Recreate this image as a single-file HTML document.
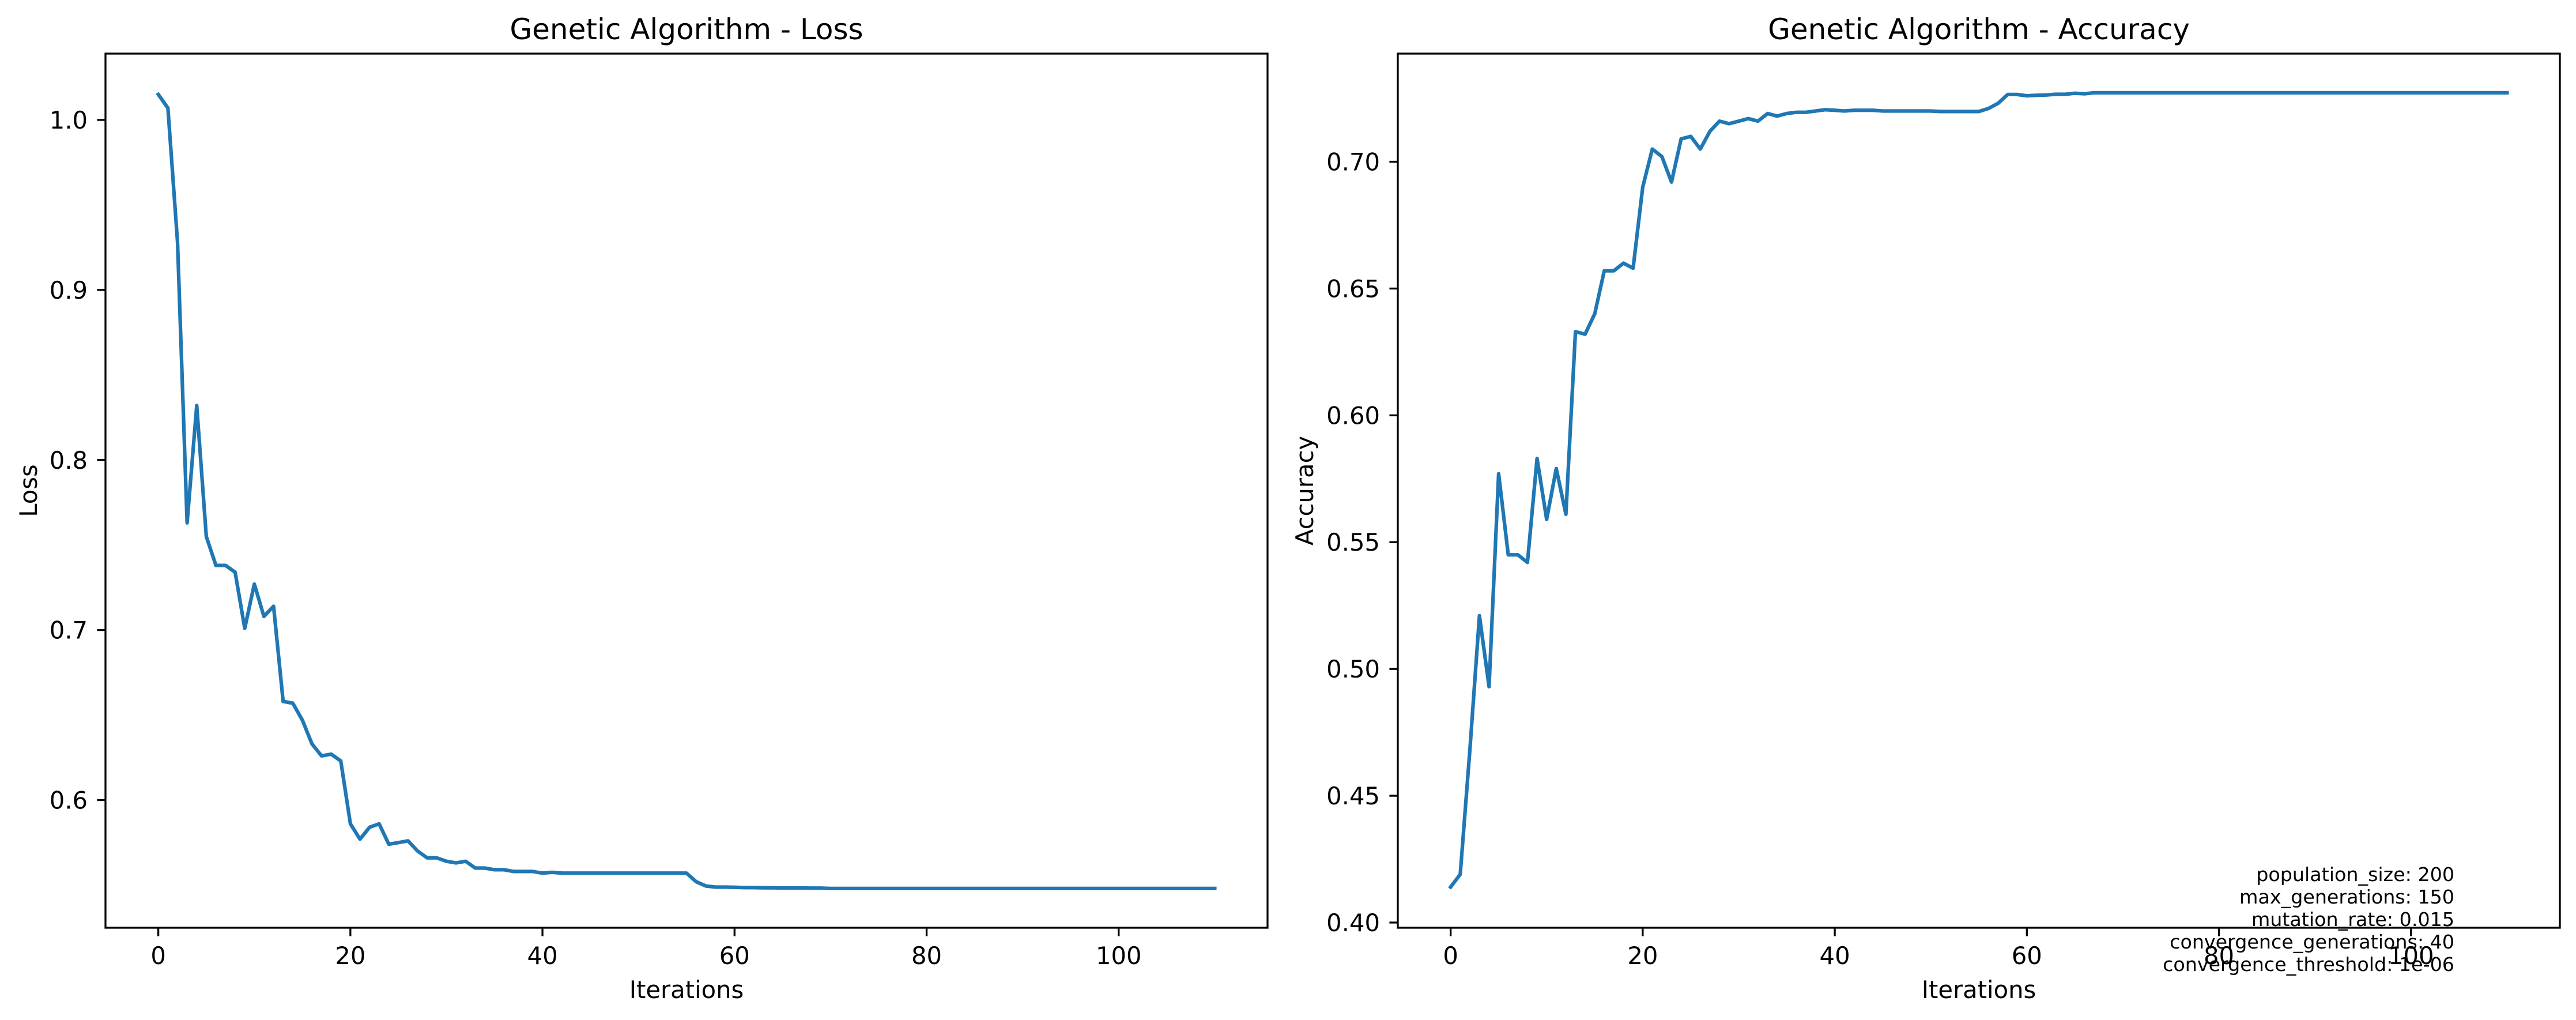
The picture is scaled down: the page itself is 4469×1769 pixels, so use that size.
<!DOCTYPE html>
<html><head><meta charset="utf-8"><style>
html,body{margin:0;padding:0;background:#fff;}
svg{display:block;font-family:"DejaVu Sans","Liberation Sans",sans-serif;}
</style></head><body>
<svg id="fig" width="4469" height="1769" viewBox="0 0 4469 1769" xmlns="http://www.w3.org/2000/svg">
<rect width="4469" height="1769" fill="#fff"/>
</svg>
<script>
const lossValues=[1.015,1.007,0.928,0.763,0.832,0.755,0.738,0.738,0.734,0.701,0.727,0.708,0.714,0.658,0.657,0.647,0.633,0.626,0.627,0.623,0.586,0.577,0.584,0.586,0.574,0.575,0.576,0.570,0.566,0.566,0.564,0.563,0.564,0.560,0.560,0.559,0.559,0.558,0.558,0.558,0.557,0.5575,0.557,0.557,0.557,0.557,0.557,0.557,0.557,0.557,0.557,0.557,0.557,0.557,0.557,0.557,0.552,0.5495,0.5488,0.5488,0.5487,0.5485,0.5485,0.5484,0.5484,0.5483,0.5483,0.5483,0.5482,0.5482,0.548,0.548,0.548,0.548,0.548,0.548,0.548,0.548,0.548,0.548,0.548,0.548,0.548,0.548,0.548,0.548,0.548,0.548,0.548,0.548,0.548,0.548,0.548,0.548,0.548,0.548,0.548,0.548,0.548,0.548,0.548,0.548,0.548,0.548,0.548,0.548,0.548,0.548,0.548,0.548,0.548];
const accValues=[0.414,0.419,0.468,0.521,0.493,0.577,0.545,0.545,0.542,0.583,0.559,0.579,0.561,0.633,0.632,0.640,0.657,0.657,0.660,0.658,0.690,0.705,0.702,0.692,0.709,0.710,0.705,0.712,0.716,0.715,0.716,0.717,0.716,0.719,0.718,0.719,0.7195,0.7195,0.720,0.7205,0.7203,0.720,0.7203,0.7203,0.7203,0.720,0.720,0.720,0.720,0.720,0.720,0.7198,0.7198,0.7198,0.7198,0.7198,0.721,0.723,0.7265,0.7265,0.726,0.7262,0.7263,0.7266,0.7266,0.727,0.7268,0.7272,0.7272,0.7272,0.7272,0.7272,0.7272,0.7272,0.7272,0.7272,0.7272,0.7272,0.7272,0.7272,0.7272,0.7272,0.7272,0.7272,0.7272,0.7272,0.7272,0.7272,0.7272,0.7272,0.7272,0.7272,0.7272,0.7272,0.7272,0.7272,0.7272,0.7272,0.7272,0.7272,0.7272,0.7272,0.7272,0.7272,0.7272,0.7272,0.7272,0.7272,0.7272,0.7272,0.7272];
const xTicks=[0,20,40,60,80,100];
const lossTicks=[0.6,0.7,0.8,0.9,1.0];
const lossTickLabels=["0.6","0.7","0.8","0.9","1.0"];
const accTicks=[0.40,0.45,0.50,0.55,0.60,0.65,0.70];
const accTickLabels=["0.40","0.45","0.50","0.55","0.60","0.65","0.70"];
const annotLines=["population_size: 200","max_generations: 150","mutation_rate: 0.015","convergence_generations: 40","convergence_threshold: 1e-06"];

const NS="http://www.w3.org/2000/svg";
const svg=document.getElementById('fig');
function mk(tag,attrs,parent){const e=document.createElementNS(NS,tag);for(const k in attrs)e.setAttribute(k,attrs[k]);(parent||svg).appendChild(e);return e;}

function panel(o){
  const g=mk('g',{});
  
  
  const xs=v=>o.L+(v-o.xmin)/(o.xmax-o.xmin)*(o.R-o.L);
  const ys=v=>o.B-(v-o.ymin)/(o.ymax-o.ymin)*(o.B-o.T);
  let d='';
  o.values.forEach((v,i)=>{d+=(i?'L':'M')+xs(i).toFixed(1)+' '+ys(v).toFixed(1);});
  const p=mk('path',{d:d,fill:'none',stroke:'#1f77b4','stroke-width':6.25,'stroke-linejoin':'round','stroke-linecap':'square'},g);
  
  
  const f=mk('rect',{x:o.L,y:o.T,width:o.R-o.L,height:o.B-o.T,fill:'none',stroke:'#000','stroke-width':3.3},g);
  
  
  xTicks.forEach(t=>{
    const x=xs(t);
    mk('line',{x1:x,x2:x,y1:o.B,y2:o.B+14.6,stroke:'#000','stroke-width':3.3},g);
    const tx=mk('text',{x:x,y:1672,'font-size':41.7,'text-anchor':'middle',fill:'#000'},g);
    tx.textContent=String(t);
    
    
  });
  o.yTicks.forEach((t,i)=>{
    const y=ys(t);
    mk('line',{x1:o.L-14.6,x2:o.L,y1:y,y2:y,stroke:'#000','stroke-width':3.3},g);
    const ty=mk('text',{x:o.L-31,y:y+15,'font-size':41.7,'text-anchor':'end',fill:'#000'},g);
    ty.textContent=o.yLabels[i];
    
    
  });
  const ti=mk('text',{x:(o.L+o.R)/2,y:68,'font-size':50,'text-anchor':'middle',fill:'#000'},g);
  ti.textContent=o.title;
  
  
  const xl=mk('text',{x:(o.L+o.R)/2,y:1731,'font-size':41.7,'text-anchor':'middle',fill:'#000'},g);
  xl.textContent='Iterations';
  
  
  const yl=mk('text',{x:0,y:0,'font-size':41.7,'text-anchor':'middle',fill:'#000',transform:'translate('+o.ylx+','+((o.T+o.B)/2)+') rotate(-90)'},g);
  yl.textContent=o.ylabel;
  
  
  return {xs,ys};
}

panel({name:'loss-panel',seriesName:'loss-line',values:lossValues,L:183,R:2199,T:93,B:1609,xmin:-5.5,xmax:115.5,ymin:0.5249,ymax:1.0390,yTicks:lossTicks,yLabels:lossTickLabels,title:'Genetic Algorithm - Loss',ylabel:'Loss',ylx:64});
panel({name:'accuracy-panel',seriesName:'accuracy-line',values:accValues,L:2425,R:4441,T:93,B:1609,xmin:-5.5,xmax:115.5,ymin:0.39795,ymax:0.74263,yTicks:accTicks,yLabels:accTickLabels,title:'Genetic Algorithm - Accuracy',ylabel:'Accuracy',ylx:2278});

const ag=mk('g',{});


annotLines.forEach((s,i)=>{
  const t=mk('text',{x:4258,y:1528+i*39,'font-size':33.3,'text-anchor':'end',fill:'#000'},ag);
  t.textContent=s;
  
  
});
</script>
</body></html>
